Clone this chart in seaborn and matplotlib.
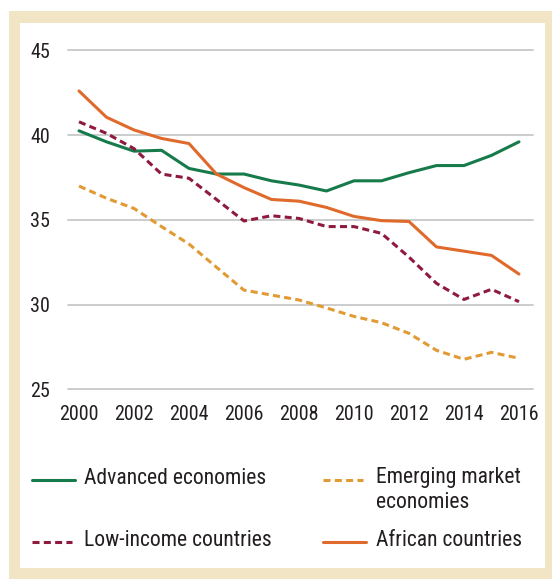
import matplotlib
matplotlib.use("Agg")
import matplotlib.pyplot as plt
from matplotlib.patches import Rectangle
from matplotlib.lines import Line2D
import seaborn as sns
import pandas as pd

years = list(range(2000, 2017))
advanced = [40.25, 39.6, 39.05, 39.1, 38.03, 37.7, 37.7, 37.3, 37.05, 36.7,
            37.3, 37.3, 37.78, 38.2, 38.2, 38.8, 39.6]
emerging = [36.99, 36.27, 35.67, 34.6, 33.57, 32.2, 30.85, 30.56, 30.27, 29.8,
            29.3, 28.93, 28.3, 27.3, 26.77, 27.18, 26.83]
low_income = [40.78, 40.1, 39.2, 37.7, 37.45, 36.2, 34.93, 35.24, 35.08, 34.6,
              34.6, 34.2, 32.8, 31.25, 30.3, 30.9, 30.17]
african = [42.6, 41.05, 40.3, 39.8, 39.5, 37.7, 36.9, 36.2, 36.1, 35.73,
           35.2, 34.95, 34.9, 33.4, 33.15, 32.9, 31.8]

series_names = ["Advanced economies", "Emerging market\neconomies",
                "Low-income countries", "African countries"]
series_values = [advanced, emerging, low_income, african]
colors = ["#167A4B", "#E29A34", "#8E1B3E", "#E06A2B"]
dashed = [False, True, True, False]

yticks = [25, 30, 35, 40, 45]
xticks = list(range(2000, 2017, 2))

rows = []
for name, vals in zip(series_names, series_values):
    for yr, v in zip(years, vals):
        rows.append({"year": yr, "value": v, "series": name})
df = pd.DataFrame(rows)

sns.set_theme(style="white")
plt.rcParams["font.family"] = ["Roboto Condensed", "DejaVu Sans"]
text_color = "#231F20"

W, H = 552, 579
fig = plt.figure(figsize=(W / 100, H / 100), dpi=100)
fig.patch.set_facecolor("white")

def px_rect(x0, y0, x1, y1, color):
    fig.add_artist(Rectangle((x0 / W, 1 - y1 / H), (x1 - x0) / W, (y1 - y0) / H,
                             transform=fig.transFigure, facecolor=color,
                             edgecolor="none", zorder=-10))

px_rect(9, 11, 552, 579, "#F2E5C5")
px_rect(20, 23, 545, 568, "white")

# axes: gridlines span x 68..533 px, y 45 at 50 px, 25 at 389 px
ax_left, ax_right = 68, 533
ax_top, ax_bottom = 50.3, 389.3
ax = fig.add_axes([ax_left / W, 1 - ax_bottom / H,
                   (ax_right - ax_left) / W, (ax_bottom - ax_top) / H])
ax.set_facecolor("none")

palette = dict(zip(series_names, colors))
dash_map = {n: ((2.3, 1.4) if d else "") for n, d in zip(series_names, dashed)}
sns.lineplot(data=df, x="year", y="value", hue="series", style="series",
             palette=palette, dashes=dash_map, linewidth=2.2, legend=False,
             ax=ax, zorder=3)

ax.set_xlim(1999.6, 2016.51)
ax.set_ylim(25, 45)
ax.set_xticks(xticks)
ax.set_yticks(yticks)
ax.set_xticklabels([str(t) for t in xticks])
ax.set_yticklabels([str(t) for t in yticks])
ax.set_xlabel("")
ax.set_ylabel("")
for s in ax.spines.values():
    s.set_visible(False)
ax.grid(False)
for t in yticks:
    ax.axhline(t, color="#C8C8C8", lw=1.3, zorder=1, clip_on=False)
ax.tick_params(axis="both", length=0, labelsize=14.5, colors=text_color)
ax.tick_params(axis="y", pad=13)
ax.tick_params(axis="x", pad=11)
for lbl in ax.get_yticklabels():
    lbl.set_horizontalalignment("right")

# legend drawn in two aligned columns
def handle(x0, x1, y, color, is_dashed):
    fig.add_artist(Line2D([x0 / W, x1 / W], [1 - y / H, 1 - y / H],
                          transform=fig.transFigure, color=color, lw=2.2,
                          linestyle=(0, (2.3, 1.4)) if is_dashed else "-"))

def label(x, y, s):
    fig.text(x / W, 1 - y / H, s, fontsize=15.6, color=text_color,
             ha="left", va="top", linespacing=1.22)

legend_slots = [(32, 75, 84, 480), (323, 363, 376, 480),
                (32, 72, 84, 542), (323, 366, 376, 542)]
for (hx0, hx1, tx, ty), name, col, d in zip(legend_slots, series_names, colors, dashed):
    handle(hx0, hx1, ty, col, d)
    label(tx, ty - 12.5, name)

fig.savefig("out.png", dpi=100, facecolor=fig.get_facecolor())
